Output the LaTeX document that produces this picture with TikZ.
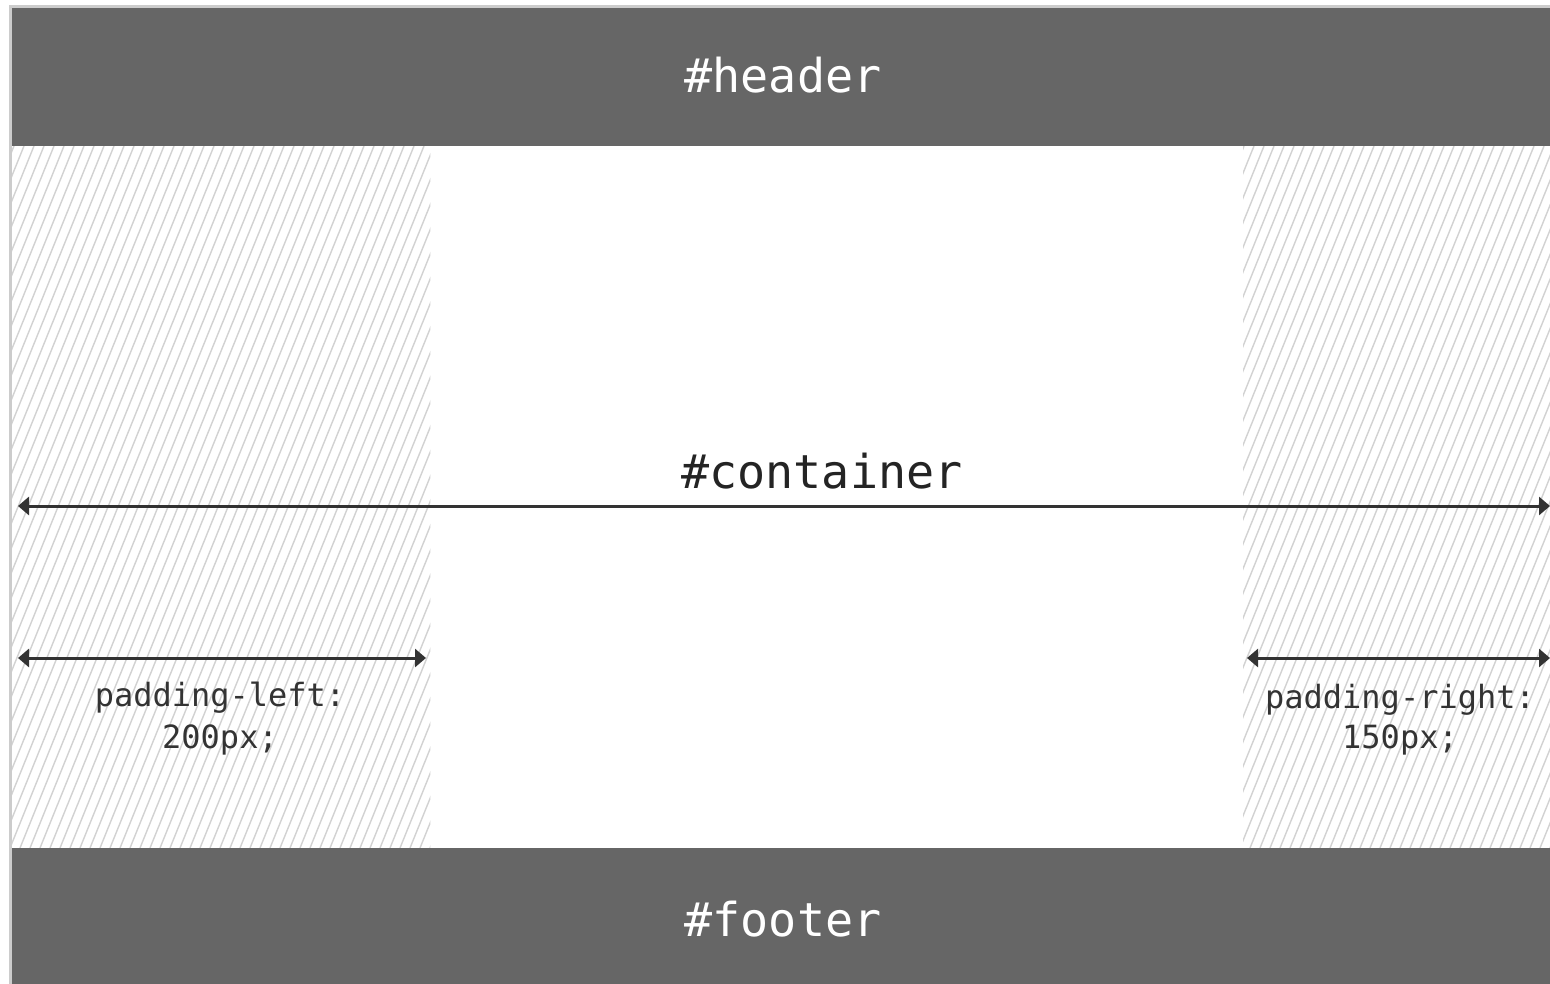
\documentclass[tikz,border=0pt]{standalone}
\usepackage{fontspec}
\setmonofont{DejaVu Sans Mono}
\usetikzlibrary{arrows.meta}
\definecolor{barcol}{HTML}{666666}
\definecolor{framecol}{HTML}{CCCCCC}
\definecolor{inkcol}{HTML}{333333}
\definecolor{hatchcol}{HTML}{D2D2D2}
\tikzset{
  bar/.style={fill=barcol, draw=none, inner sep=0pt, anchor=north west},
  bartext/.style={text=white, inner sep=0pt, anchor=base,
    font=\ttfamily\fontsize{46.7}{56}\selectfont},
  padzone/.style={draw=none, inner sep=0pt, anchor=north west},
  dimline/.style={draw=inkcol, line width=3pt, {Triangle[length=11pt,width=18pt]}-{Triangle[length=11pt,width=18pt]}},
  biglabel/.style={text=inkcol!70!black, anchor=base, inner sep=0pt, font=\ttfamily\fontsize{46.7}{56}\selectfont},
  smalllabel/.style={text=inkcol, anchor=base, inner sep=0pt, font=\ttfamily\fontsize{32}{42}\selectfont},
  hatchline/.style={draw=hatchcol, line width=1.4pt}
}
\begin{document}
\begin{tikzpicture}[x=1pt,y=-1pt]
\useasboundingbox (0,0) rectangle (1550,984);
% outer frame
\fill[framecol] (9,5) rectangle (1550,984);
\fill[white] (12,8) rectangle (1550,984);
% padding zones
\node[padzone, minimum width=418pt, minimum height=702pt] (padl) at (12,146) {};
\node[padzone, minimum width=307pt, minimum height=702pt] (padr) at (1243,146) {};
\begin{scope}
  \clip (padl.north west) rectangle (padl.south east)
        (padr.north west) rectangle (padr.south east);
  \foreach \x in {-300,-290,...,1560}
    \draw[hatchline] (\x,848) -- ++(284,-702);
\end{scope}
% header and footer
\node[bar, minimum width=1538pt, minimum height=138pt] (header) at (12,8) {};
\node[bartext] (htext) at (783,93) {\#header};
\node[bar, minimum width=1538pt, minimum height=136pt] (footer) at (12,848) {};
\node[bartext] (ftext) at (783,936) {\#footer};
% container dimension
\coordinate (cl) at (18,506);
\coordinate (cr) at (1550,506);
\draw[dimline] (cl) -- (cr);
\node[biglabel] (clabel) at (822,488) {\#container};
% padding-left
\coordinate (pll) at (18,658);
\coordinate (plr) at (426,658);
\draw[dimline] (pll) -- (plr);
\node[smalllabel] (pl1) at (220,706) {padding-left:};
\node[smalllabel] (pl2) at (220,748) {200px;};
% padding-right
\coordinate (prl) at (1247,658);
\coordinate (prr) at (1550,658);
\draw[dimline] (prl) -- (prr);
\node[smalllabel] (pr1) at (1400,708) {padding-right:};
\node[smalllabel] (pr2) at (1400,748) {150px;};
\end{tikzpicture}
\end{document}
